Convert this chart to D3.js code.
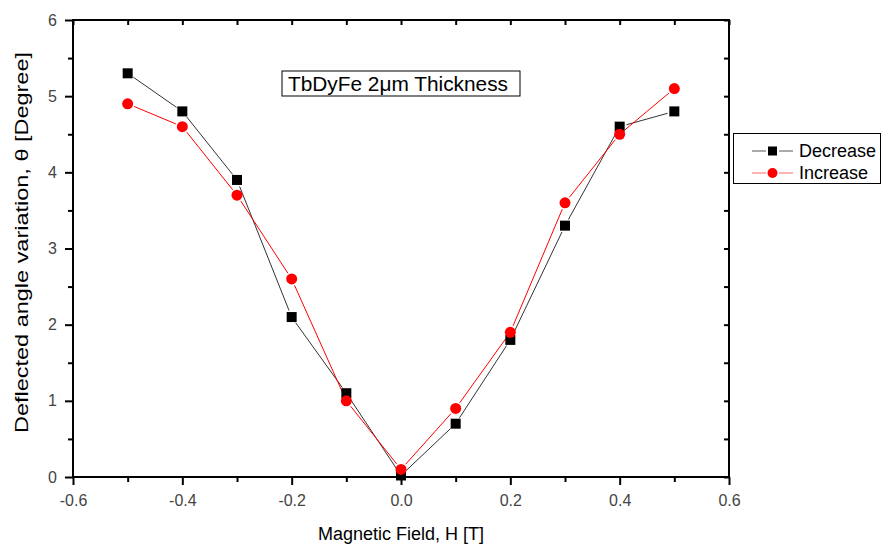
<!DOCTYPE html>
<html><head><meta charset="utf-8">
<script src="https://cdn.jsdelivr.net/npm/d3@7"></script>
<style>body{margin:0;background:#fff}svg{display:block;font-family:"Liberation Sans",Arial,sans-serif}</style>
</head><body><svg id="c" width="882" height="544"></svg>
<script>
const fields = [-0.5,-0.4,-0.3,-0.2,-0.1,0.0,0.1,0.2,0.3,0.4,0.5];
const decrease = [5.3,4.8,3.9,2.1,1.1,0.02,0.7,1.8,3.3,4.6,4.8];
const increase = [4.9,4.6,3.7,2.6,1.0,0.1,0.9,1.9,3.6,4.5,5.1];
const xTicks = [-0.6,-0.4,-0.2,0.0,0.2,0.4,0.6];
const yTicks = [0,1,2,3,4,5,6];
const seriesNames = ["Decrease","Increase"];

const svg = d3.select("#c");
const L=73, R=729, T=20, B=477;
const x = d3.scaleLinear().domain([-0.6,0.6]).range([L,R]);
const y = d3.scaleLinear().domain([0,6]).range([B,T]);

const fmt = d => (d<0?"-":"") + Math.abs(d).toFixed(1);
const xMinor = d3.range(-0.6,0.61,0.1).map(v=>+v.toFixed(1));
const yMinor = d3.range(0,6.01,0.5);

svg.append("g").attr("transform",`translate(0,${B})`)
  .call(d3.axisBottom(x).tickValues(xTicks).tickFormat(fmt).tickSize(8).tickPadding(10));
svg.append("g").attr("transform",`translate(0,${B})`)
  .call(d3.axisBottom(x).tickValues(xMinor.filter(v=>Math.round(v*10)%2!==0)).tickFormat("").tickSize(5));
svg.append("g").attr("transform",`translate(${L},0)`)
  .call(d3.axisLeft(y).tickValues(yTicks).tickFormat(d3.format("d")).tickSize(8).tickPadding(8));
svg.append("g").attr("transform",`translate(${L},0)`)
  .call(d3.axisLeft(y).tickValues(yMinor.filter(v=>v%1!==0)).tickFormat("").tickSize(5));
svg.append("g").attr("transform",`translate(0,${T})`)
  .call(d3.axisTop(x).tickValues(xMinor).tickFormat("").tickSize(-5));
svg.append("g").attr("transform",`translate(${R},0)`)
  .call(d3.axisRight(y).tickValues(yMinor).tickFormat("").tickSize(-5));
svg.selectAll(".domain").remove();
svg.selectAll(".tick line").attr("stroke","#000").attr("stroke-width",2);
svg.selectAll(".tick text").style("font-size","16px").style("fill","#444")
  .style("font-family","'Liberation Sans', Arial, sans-serif");
svg.append("rect").attr("x",L).attr("y",T).attr("width",R-L).attr("height",B-T)
  .attr("fill","none").attr("stroke","#000").attr("stroke-width",2);

// titles
svg.append("text").attr("x",(L+R)/2).attr("y",540).attr("text-anchor","middle")
  .style("font-size","18px").text("Magnetic Field, H [T]");
svg.append("text").attr("transform",`translate(28,242.5) rotate(-90)`).attr("text-anchor","middle")
  .style("font-size","18px").attr("textLength",381).attr("lengthAdjust","spacingAndGlyphs")
  .text("Deflected angle variation, θ [Degree]");

function gapped(g, pts, color, gap){
  for(let i=0;i<pts.length-1;i++){
    const [x1,y1]=pts[i],[x2,y2]=pts[i+1];
    const dx=x2-x1, dy=y2-y1, len=Math.hypot(dx,dy);
    if(len<=2*gap) continue;
    const ux=dx/len, uy=dy/len;
    g.append("line").attr("x1",x1+ux*gap).attr("y1",y1+uy*gap)
      .attr("x2",x2-ux*gap).attr("y2",y2-uy*gap)
      .attr("stroke",color).attr("stroke-width",1);
  }
}
const pd = fields.map((f,i)=>[x(f),y(decrease[i])]);
const pi = fields.map((f,i)=>[x(f),y(increase[i])]);
const gl = svg.append("g");
gapped(gl,pd,"#333",7);
gapped(gl,pi,"#f00",7);
svg.append("g").selectAll("rect").data(pd).join("rect")
  .attr("x",d=>d[0]-5).attr("y",d=>d[1]-5).attr("width",10).attr("height",10).attr("fill","#000");
svg.append("g").selectAll("circle").data(pi).join("circle")
  .attr("cx",d=>d[0]).attr("cy",d=>d[1]).attr("r",5.5).attr("fill","#f00");

// annotation
svg.append("rect").attr("x",282).attr("y",71).attr("width",238).attr("height",25)
  .attr("fill","#fff").attr("stroke","#000").attr("stroke-width",1);
svg.append("text").attr("x",398).attr("y",91).attr("text-anchor","middle").style("font-size","20px")
  .attr("textLength",220).attr("lengthAdjust","spacingAndGlyphs")
  .text("TbDyFe 2μm Thickness");

// legend
svg.append("rect").attr("x",733.5).attr("y",133.5).attr("width",147).attr("height",50)
  .attr("fill","#fff").attr("stroke","#000").attr("stroke-width",1);
const lg = svg.append("g");
[["#555","#000","sq"],["#f66","#f00","ci"]].forEach((s,i)=>{
  const yy = 151 + i*22;
  lg.append("line").attr("x1",752).attr("x2",766).attr("y1",yy).attr("y2",yy).attr("stroke",s[0]);
  lg.append("line").attr("x1",779).attr("x2",793).attr("y1",yy).attr("y2",yy).attr("stroke",s[0]);
  if(s[2]==="sq") lg.append("rect").attr("x",768).attr("y",yy-4.5).attr("width",9).attr("height",9).attr("fill",s[1]);
  else lg.append("circle").attr("cx",772.5).attr("cy",yy).attr("r",5).attr("fill",s[1]);
  lg.append("text").attr("x",799).attr("y",yy+6).style("font-size","18px").text(seriesNames[i]);
});
</script></body></html>
